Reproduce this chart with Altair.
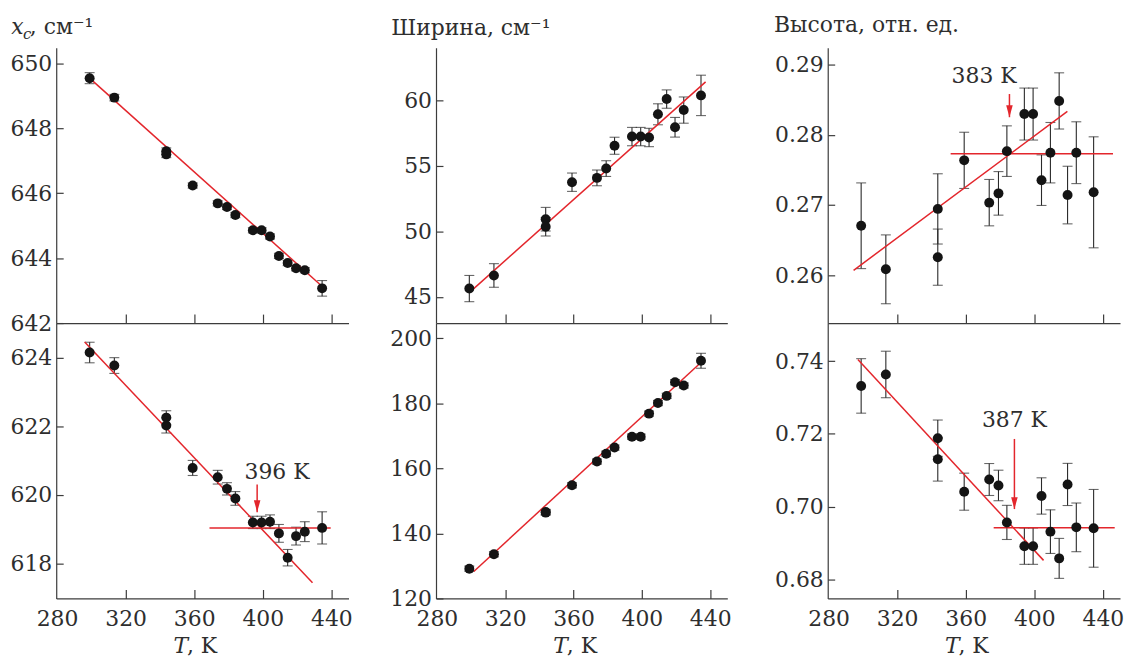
import altair as alt
import pandas as pd

FONT = "DejaVu Serif"
RED = "#e3262c"
INK = "#141414"
BAR = "#2a2a2a"
TXT = "#2e2e2e"
AXC = "#3c3c3c"
FS = 22
H = 277

# ---------------- data ----------------
T = [299.0, 313.4, 343.7, 343.7, 359.1, 373.7, 379.1, 384.0, 394.2, 399.3,
     404.2, 409.4, 414.5, 419.4, 424.5, 434.6]
X_TICKS = [280, 320, 360, 400, 440]

xc_top = [649.55, 648.95, 647.30, 647.20, 646.24, 645.69, 645.58, 645.33, 644.86, 644.86,
          644.67, 644.07, 643.85, 643.69, 643.63, 643.07]
xc_top_err = [0.17, 0.10, 0.10, 0.10, 0.08, 0.08, 0.08, 0.08, 0.08, 0.08,
              0.08, 0.08, 0.08, 0.08, 0.08, 0.24]
xc_bot = [624.16, 623.78, 622.26, 622.03, 620.79, 620.52, 620.18, 619.90, 619.20, 619.20,
          619.22, 618.88, 618.17, 618.80, 618.93, 619.04]
xc_bot_err = [0.30, 0.23, 0.20, 0.22, 0.22, 0.20, 0.18, 0.20, 0.18, 0.18,
              0.20, 0.26, 0.24, 0.26, 0.29, 0.47]

w_top = [45.63, 46.63, 50.92, 50.34, 53.74, 54.07, 54.78, 56.52, 57.22, 57.22,
         57.15, 58.92, 60.08, 57.93, 59.24, 60.36]
w_top_err = [1.00, 0.90, 0.90, 0.70, 0.70, 0.60, 0.60, 0.65, 0.70, 0.70,
             0.70, 0.80, 0.70, 0.75, 1.00, 1.54]
w_bot = [129.15, 133.6, 146.4, 146.6, 154.8, 162.1, 164.5, 166.4, 169.75, 169.75,
         176.85, 180.1, 182.3, 186.5, 185.5, 193.1]
w_bot_err = [0.8, 0.8, 0.8, 0.8, 0.8, 0.8, 0.8, 0.8, 0.8, 0.8,
             0.8, 0.8, 0.8, 0.8, 0.8, 2.3]

h_top = [0.26705, 0.26085, 0.26945, 0.26258, 0.27636, 0.27034, 0.27166, 0.27767, 0.28295, 0.28295,
         0.27354, 0.27745, 0.28482, 0.27142, 0.27745, 0.27181]
h_top_err = [0.0061, 0.0049, 0.0050, 0.0040, 0.0040, 0.0033, 0.0031, 0.0036, 0.0037, 0.0037,
             0.0036, 0.0043, 0.0040, 0.0041, 0.0044, 0.0079]
h_bot = [0.7332, 0.73635, 0.71881, 0.7130, 0.70409, 0.70744, 0.7058, 0.69563, 0.68909, 0.68909,
         0.70291, 0.69309, 0.68573, 0.70608, 0.69427, 0.6940]
h_bot_err = [0.0075, 0.0064, 0.0050, 0.0060, 0.0051, 0.0044, 0.0042, 0.0047, 0.0050, 0.0050,
             0.0050, 0.0060, 0.0055, 0.0058, 0.0067, 0.0107]

# fitted lines (end points)
xc_top_fit_T, xc_top_fit_v = [300.9, 434.2], [649.46, 643.15]
xc_bot_fit_T, xc_bot_fit_v = [296.1, 429.0], [624.47, 617.44]
xc_bot_flat_T, xc_bot_flat_v = [368.9, 439.6], [619.04, 619.04]
w_top_fit_T, w_top_fit_v = [301.6, 437.3], [45.63, 61.39]
w_bot_fit_T, w_bot_fit_v = [301.6, 433.6], [128.3, 192.1]
h_top_fit_T, h_top_fit_v = [294.6, 419.3], [0.26071, 0.28332]
h_top_flat_T, h_top_flat_v = [351.2, 445.9], [0.27731, 0.27731]
h_bot_fit_T, h_bot_fit_v = [297.1, 405.4], [0.74044, 0.68518]
h_bot_flat_T, h_bot_flat_v = [376.3, 446.9], [0.69418, 0.69418]

# transition annotations: arrow T, arrow start, arrow tip, label T, label value, label
xc_arrow = [396.7, 620.31, 619.50, 408.3, 620.47, "396 K"]
h_top_arrow = [385.5, 0.2858, 0.2825, 370.7, 0.2874, "383 K"]
h_bot_arrow = [388.4, 0.7186, 0.6993, 388.4, 0.7219, "387 K"]

ARROW_HEAD = "M-0.55,-2L0.55,-2L0,0Z"


def txt(s, dx, dy, size=FS, style="normal", align="left"):
    return alt.Chart(pd.DataFrame({"s": [s]})).mark_text(
        align=align, baseline="alphabetic", font=FONT, fontSize=size,
        fontStyle=style, color=TXT
    ).encode(text="s:N", x=alt.value(dx), y=alt.value(dy))


def panel(vals, errs, ydom, yticks, yfmt, width, xmax, fit, flat=None, arrow=None,
          bottom=False, title=None, vis_w=None):
    xs = alt.Scale(domain=[279.5, xmax], nice=False, zero=False)
    ys = alt.Scale(domain=ydom, nice=False, zero=False)
    df = pd.DataFrame({"T": T, "v": vals,
                       "lo": [v - e for v, e in zip(vals, errs)],
                       "hi": [v + e for v, e in zip(vals, errs)]})
    xkw = dict(orient="bottom", values=X_TICKS, format="d", labels=bottom, ticks=False,
               tickSize=0, domain=True, title=None, labelPadding=10, labelFlush=False,
               labelOverlap=False)
    if vis_w:
        xkw["domainDash"] = [vis_w, 300]
    x_main = alt.Axis(**xkw)
    y_main = alt.Axis(orient="left", values=yticks, format=yfmt, ticks=False, tickSize=0,
                      domain=True, title=None, labelPadding=4.5, labelFlush=False,
                      labelOverlap=False)
    x_in = alt.Axis(orient="top", offset=-H, values=X_TICKS[1:], labels=False, domain=False,
                    ticks=True, tickSize=9, title=None)
    y_in = alt.Axis(orient="right", offset=-width, values=yticks, labels=False, domain=False,
                    ticks=True, tickSize=7, title=None)

    X = lambda f, ax=None: alt.X(f, type="quantitative", scale=xs, axis=ax)
    Y = lambda f, ax=None: alt.Y(f, type="quantitative", scale=ys, axis=ax)

    base = alt.Chart(df)
    layers = [
        base.mark_point(opacity=0).encode(x=X("T", x_in), y=Y("v", y_in)),
        base.mark_rule(color=BAR, strokeWidth=1.1).encode(x=X("T"), y=Y("lo"), y2="hi"),
        base.mark_tick(orient="horizontal", size=10, thickness=1.1, color=BAR).encode(x=X("T"), y=Y("lo")),
        base.mark_tick(orient="horizontal", size=10, thickness=1.1, color=BAR).encode(x=X("T"), y=Y("hi")),
    ]
    fdf = pd.DataFrame({"T": fit[0], "v": fit[1]})
    layers.append(alt.Chart(fdf).mark_line(color=RED, strokeWidth=1.5).encode(x=X("T"), y=Y("v")))
    if flat is not None:
        ldf = pd.DataFrame({"T": flat[0], "v": flat[1]})
        layers.append(alt.Chart(ldf).mark_line(color=RED, strokeWidth=1.5).encode(x=X("T"), y=Y("v")))
    if arrow is not None:
        adf = pd.DataFrame({"T": [arrow[0]], "y1": [arrow[1]], "y2": [arrow[2]],
                            "lt": [arrow[3]], "lv": [arrow[4]], "label": [arrow[5]]})
        ac = alt.Chart(adf)
        layers.append(ac.mark_rule(color=RED, strokeWidth=1.5).encode(x=X("T"), y=Y("y1"), y2="y2"))
        layers.append(ac.mark_point(shape=ARROW_HEAD, size=144, filled=True, opacity=1,
                                    color=RED).encode(x=X("T"), y=Y("y2")))
        layers.append(ac.mark_text(font=FONT, fontSize=FS, color=TXT, align="center",
                                   baseline="alphabetic").encode(x=X("lt"), y=Y("lv"), text="label:N"))
    layers.append(base.mark_circle(size=100, color=INK, opacity=1).encode(x=X("T", x_main), y=Y("v", y_main)))
    if title:
        for part in title:
            layers.append(txt(*part))
    if bottom:
        layers.append(txt("T", 118, H + 55, FS, "italic"))
        layers.append(txt(", K", 131.5, H + 55, FS))
    return alt.layer(*layers).properties(width=width, height=H).resolve_axis(
        x="independent", y="independent")


W1, W2, W2VIS, W3 = 294, 306, 293, 294
X1 = 450.0
X2 = 279.5 + W2 / (W2VIS / 170.5)
X3 = 450.0

p1 = panel(xc_top, xc_top_err, [642, 650.49], [642, 644, 646, 648, 650], "d", W1, X1,
           (xc_top_fit_T, xc_top_fit_v),
           title=[("x", -45.3, -13.7, FS, "italic"), ("c", -33.5, -9, 15, "italic"),
                  (", см⁻¹", -26.5, -13.7, FS)])
p2 = panel(w_top, w_top_err, [43.0, 64.0], [45, 50, 55, 60], "d", W2, X2,
           (w_top_fit_T, w_top_fit_v), vis_w=W2VIS,
           title=[("Ширина, см⁻¹", -45, -13, FS)])
p3 = panel(h_top, h_top_err, [0.2532, 0.2924], [0.26, 0.27, 0.28, 0.29], ".2f", W3, X3,
           (h_top_fit_T, h_top_fit_v), flat=(h_top_flat_T, h_top_flat_v), arrow=h_top_arrow,
           title=[("Высота, отн. ед.", -54, -15.7, FS)])
p4 = panel(xc_bot, xc_bot_err, [616.98, 625.02], [618, 620, 622, 624], "d", W1, X1,
           (xc_bot_fit_T, xc_bot_fit_v), flat=(xc_bot_flat_T, xc_bot_flat_v), arrow=xc_arrow,
           bottom=True)
p5 = panel(w_bot, w_bot_err, [120, 204.7], [120, 140, 160, 180, 200], "d", W2, X2,
           (w_bot_fit_T, w_bot_fit_v), bottom=True, vis_w=W2VIS)
p6 = panel(h_bot, h_bot_err, [0.6747, 0.7505], [0.68, 0.70, 0.72, 0.74], ".2f", W3, X3,
           (h_bot_fit_T, h_bot_fit_v), flat=(h_bot_flat_T, h_bot_flat_v), arrow=h_bot_arrow,
           bottom=True)

chart = alt.concat(p1, p2, p3, p4, p5, p6, columns=3, align="each",
                   spacing={"row": 0, "column": 88}, bounds="flush").properties(
    padding={"left": 1.5, "top": 4, "right": 0, "bottom": 0}
).configure_view(stroke=None).configure_axis(
    labelFont=FONT, labelFontSize=FS, labelColor=TXT, domainColor=AXC, tickColor=AXC,
    domainWidth=1.2, tickWidth=1.2, grid=False
)

chart.save("out.html", embed_options={"renderer": "svg", "actions": False})
